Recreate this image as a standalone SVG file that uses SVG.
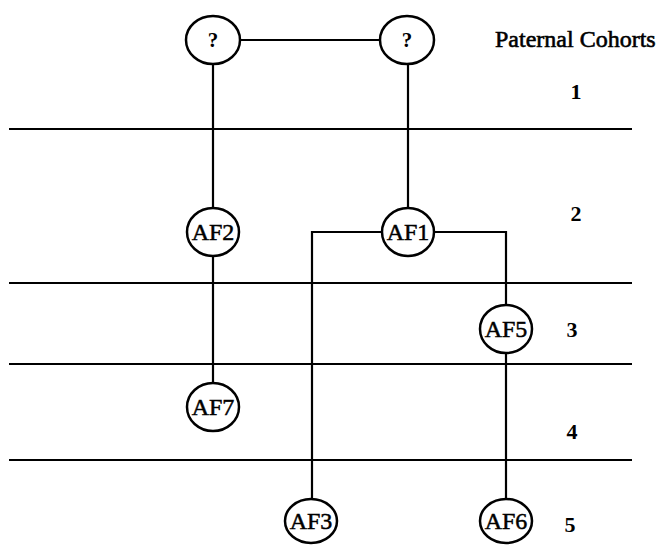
<svg xmlns="http://www.w3.org/2000/svg" width="661" height="545" viewBox="0 0 661 545">
  <style>
    .rule { stroke: #000; stroke-width: 2; fill: none; }
    .link { stroke: #000; stroke-width: 2.2; fill: none; }
    .node ellipse { fill: #fff; stroke: #000; stroke-width: 2.5; }
    .node text { font-family: "Liberation Serif", "Times New Roman", serif; font-size: 24px; fill: #000; stroke: #000; stroke-width: 0.5; text-anchor: middle; }
    .node text.q { font-weight: bold; font-size: 21px; stroke-width: 0; }
    .label { font-family: "Liberation Serif", "Times New Roman", serif; font-size: 24px; fill: #000; stroke: #000; stroke-width: 0.6; }
    .num { text-anchor: middle; font-weight: bold; font-size: 22px; stroke-width: 0; }
  </style>
  <rect width="661" height="545" fill="#fff"/>

  <!-- cohort dividers -->
  <g id="rules">
    <line class="rule" x1="9" y1="129" x2="632" y2="129"/>
    <line class="rule" x1="9" y1="283" x2="632" y2="283"/>
    <line class="rule" x1="9" y1="364" x2="632" y2="364"/>
    <line class="rule" x1="9" y1="460" x2="632" y2="460"/>
  </g>

  <!-- lineage connectors -->
  <g id="connectors">
    <line class="link" x1="213" y1="40" x2="407" y2="40"/>
    <line class="link" x1="213" y1="40" x2="213" y2="407"/>
    <line class="link" x1="408" y1="40" x2="408" y2="232"/>
    <polyline class="link" points="408,232 312,232 312,521"/>
    <polyline class="link" points="408,232 506,232 506,521"/>
  </g>

  <g id="unknown-left" class="node"><ellipse cx="213" cy="40" rx="27" ry="24"/><text class="q" x="213" y="47">?</text></g>
  <g id="unknown-right" class="node"><ellipse cx="407" cy="40" rx="27" ry="24"/><text class="q" x="407" y="47">?</text></g>
  <g id="AF2" class="node"><ellipse cx="213" cy="232" rx="26" ry="24"/><text x="213" y="240">AF2</text></g>
  <g id="AF1" class="node"><ellipse cx="408" cy="232" rx="26" ry="24"/><text x="408" y="240">AF1</text></g>
  <g id="AF5" class="node"><ellipse cx="506" cy="329" rx="26" ry="24"/><text x="506" y="337">AF5</text></g>
  <g id="AF7" class="node"><ellipse cx="213" cy="407" rx="26" ry="24"/><text x="213" y="415">AF7</text></g>
  <g id="AF3" class="node"><ellipse cx="311" cy="521" rx="26" ry="22"/><text x="311" y="529">AF3</text></g>
  <g id="AF6" class="node"><ellipse cx="506" cy="521" rx="26" ry="22"/><text x="506" y="529">AF6</text></g>

  <!-- cohort labels -->
  <g id="cohort-labels">
    <text class="label" x="495" y="47">Paternal Cohorts</text>
    <text class="label num" x="576" y="99">1</text>
    <text class="label num" x="576" y="221">2</text>
    <text class="label num" x="572" y="337">3</text>
    <text class="label num" x="572" y="439">4</text>
    <text class="label num" x="570" y="532">5</text>
  </g>
</svg>
